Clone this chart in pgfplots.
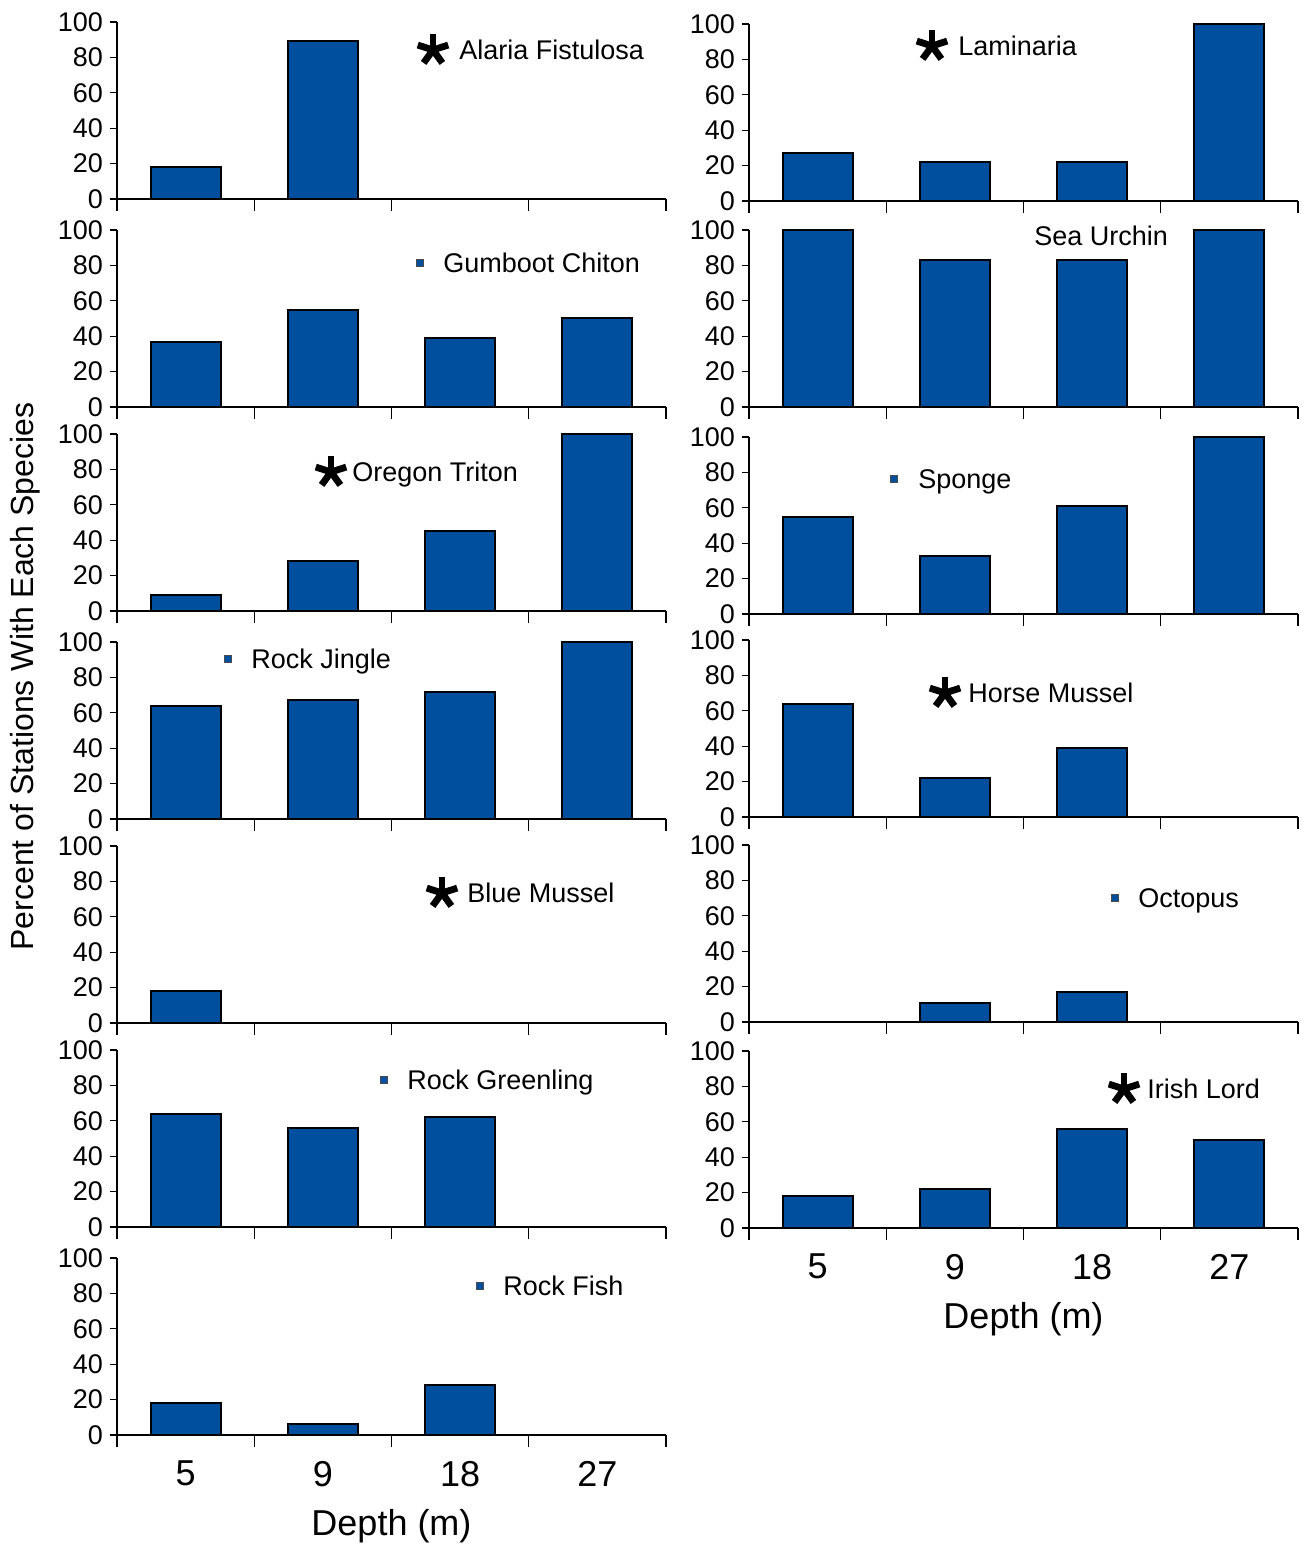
\documentclass[border=0pt]{standalone}
\usepackage{fontspec}
\setmainfont{Liberation Sans}
\usepackage{pgfplots}
\pgfplotsset{compat=1.18}
\definecolor{barblue}{RGB}{0,78,158}

\pgfplotsset{
  panel/.style={
    width=274.5pt, height=88.5pt, scale only axis, anchor=south west,
    xmin=0.5, xmax=4.5, ymin=0, ymax=100, enlargelimits=false, clip=false,
    axis x line=bottom, axis y line=left,
    axis line style={-, line width=1pt, black},
    xtick={1,2,3,4}, xticklabels={},
    major x tick style={draw=none},
    minor xtick={0.5,1.5,2.5,3.5,4.5},
    minor x tick style={black, line width=0.6pt},
    minor tick length=6pt,
    ytick={0,20,40,60,80,100},
    y tick style={black, line width=0.6pt},
    tick align=outside, major tick length=3.5pt,
    /pgf/number format/assume math mode=true,
    yticklabel style={font=\fontsize{13.5}{14}\selectfont},
  },
  bottompanel/.style={
    xticklabels={5,9,18,27},
    xticklabel style={font=\fontsize{18}{18}\selectfont, yshift=-6pt},
    xlabel={Depth (m)},
    xlabel style={font=\fontsize{18}{18}\selectfont, yshift=-4.5pt},
  },
}

\newcommand{\panel}[4]{%
  \begin{axis}[panel, at={(#1,#2)}, #4]
    \addplot[ybar, bar width=0.51, fill=barblue, draw=black, line width=1pt, mark=none] coordinates {#3};
  \end{axis}}

\newcommand{\legtext}[3]{\node[anchor=base west, inner sep=0pt, font=\fontsize{13.5}{14}\selectfont, yshift=-4.8pt] at (#1,#2) {#3};}
\newcommand{\legast}[2]{\foreach \a in {90,18,162,-54,-126} \draw[line width=3.4pt, black] (#1,#2) -- ++(\a:8pt);}
\newcommand{\legsq}[2]{\fill[barblue, draw=black!70, line width=0.3pt] ([xshift=-1.7pt, yshift=-1.7pt]#1,#2) rectangle ++(3.4pt,3.4pt);}

\begin{document}
\begin{tikzpicture}
\useasboundingbox (0pt,0pt) rectangle (653.5pt,-772.5pt);

% left column
\panel{58.5pt}{-99.5pt}{(1,18)(2,89)(3,0)(4,0)}{}
\panel{58.5pt}{-203.5pt}{(1,37)(2,55)(3,39)(4,50)}{}
\panel{58.5pt}{-305.5pt}{(1,9)(2,28)(3,45)(4,100)}{}
\panel{58.5pt}{-409.5pt}{(1,64)(2,67)(3,72)(4,100)}{}
\panel{58.5pt}{-511.5pt}{(1,18)(2,0)(3,0)(4,0)}{}
\panel{58.5pt}{-613.5pt}{(1,64)(2,56)(3,62)(4,0)}{}
\panel{58.5pt}{-717.5pt}{(1,18)(2,6)(3,28)(4,0)}{bottompanel}

% right column
\panel{374.5pt}{-100.5pt}{(1,27)(2,22)(3,22)(4,100)}{}
\panel{374.5pt}{-203.5pt}{(1,100)(2,83)(3,83)(4,100)}{}
\panel{374.5pt}{-307pt}{(1,55)(2,33)(3,61)(4,100)}{}
\panel{374.5pt}{-408.5pt}{(1,64)(2,22)(3,39)(4,0)}{}
\panel{374.5pt}{-511pt}{(1,0)(2,11)(3,17)(4,0)}{}
\panel{374.5pt}{-614pt}{(1,18)(2,22)(3,56)(4,50)}{bottompanel}

\node[rotate=90, font=\fontsize{16}{16}\selectfont] at (12.5pt,-338.25pt) {Percent of Stations With Each Species};

\begin{scope}[x=0.5pt, y=-0.5pt]
  \legast{433}{50}   \legtext{459}{50}{Alaria Fistulosa}
  \legsq{420}{263}   \legtext{443}{263}{Gumboot Chiton}
  \legast{331}{472}  \legtext{352}{472}{Oregon Triton}
  \legsq{228}{659}   \legtext{251}{659}{Rock Jingle}
  \legast{442}{893}  \legtext{467}{893}{Blue Mussel}
  \legsq{384}{1080}  \legtext{407}{1080}{Rock Greenling}
  \legsq{480}{1286}  \legtext{503}{1286}{Rock Fish}
  \legast{932}{46}   \legtext{958}{46}{Laminaria}
                     \legtext{1034}{236}{Sea Urchin}
  \legsq{894}{479}   \legtext{918}{479}{Sponge}
  \legast{945}{693}  \legtext{968}{693}{Horse Mussel}
  \legsq{1115}{898}  \legtext{1138}{898}{Octopus}
  \legast{1124}{1089} \legtext{1147}{1089}{Irish Lord}
\end{scope}
\end{tikzpicture}
\end{document}
